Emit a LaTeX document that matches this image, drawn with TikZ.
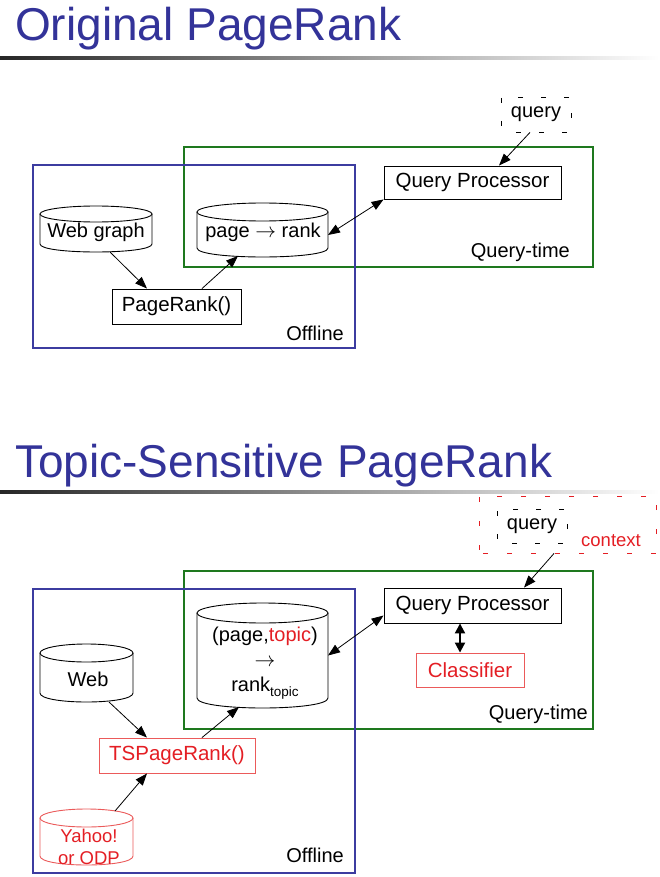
\documentclass[tikz,border=0pt]{standalone}
\usepackage{fontspec}
\setmainfont{Liberation Sans}
\usetikzlibrary{arrows.meta,calc}
\definecolor{ttl}{RGB}{51,51,153}
\definecolor{offb}{RGB}{60,60,160}
\definecolor{qtg}{RGB}{30,120,30}
\definecolor{rtx}{RGB}{228,30,36}
\definecolor{rbx}{RGB}{235,90,90}
\newcommand\cylshape[6]{%
  \path[fill=white,draw=#6,line width=0.9pt]
    (#1,{#2+#5}) -- (#1,{#4-#5}) .. controls (#1,{#4+#5/3}) and (#3,{#4+#5/3}) .. (#3,{#4-#5}) -- (#3,{#2+#5});
  \path[fill=white,draw=#6,line width=0.9pt]
    ({(#1+#3)/2},{#2+#5}) ellipse [x radius={(#3-#1)/2}, y radius=#5];
}
\tikzset{
  title/.style={anchor=base west, inner sep=0pt, text=ttl, font=\fontsize{46}{50}\selectfont},
  lbl/.style={inner sep=0pt, font=\fontsize{20}{26}\selectfont},
  box/.style={draw, line width=0.9pt, fill=white, inner sep=0pt, font=\fontsize{20.5}{24}\selectfont},
  rbox/.style={box, draw=rbx, text=rtx},
  area/.style={inner sep=0pt, outer sep=0pt},
  frameG/.style={draw=qtg, line width=2.8pt, inner sep=0pt},
  frameB/.style={draw=offb, line width=2.8pt, inner sep=0pt},
  qbox/.style={draw, dash pattern=on 5pt off 18pt, dash phase=8pt, line width=0.8pt, inner sep=0pt, font=\fontsize{20}{24}\selectfont},
  rdash/.style={draw=rtx, dash pattern=on 5pt off 19pt, dash phase=-4pt, line width=0.9pt, inner sep=0pt},
  arr/.style={-{Triangle[length=12pt,width=9pt]}, line width=0.8pt},
  darr/.style={{Triangle[length=12pt,width=9pt]}-{Triangle[length=12pt,width=9pt]}, line width=0.8pt},
  tdarr/.style={{Triangle[length=10pt,width=10pt]}-{Triangle[length=10pt,width=10pt]}, line width=2pt},
}
\begin{document}
\begin{tikzpicture}[x=1pt,y=-1pt]
\useasboundingbox (0,0) rectangle (659,877);
% ---------- Part 1 ----------
\node[title] (t1) at (15,41) {Original PageRank};
\shade[left color=black!85,right color=white] (0,56.5) rectangle (659,59.5);

\node[frameG, minimum width=409, minimum height=120] (qt1) at (388.5,207) {};
\node[frameB, minimum width=322, minimum height=183] (off1) at (194,256.5) {};
\node[lbl, anchor=base east] (qtl1) at (570,257) {Query-time};
\node[lbl, anchor=base east] (offl1) at (344,340) {Offline};

\cylshape{40}{206}{152}{252}{8}{black}
\node[area, minimum width=112, minimum height=46] (webg) at (96,229) {};
\node[lbl] (webgT) at (96,232) {Web graph};

\cylshape{197}{203}{328}{257}{9}{black}
\node[area, minimum width=131, minimum height=54] (pr1) at (262.5,230) {};
\node[lbl] (pr1T) at (263,232) {page $\rightarrow$ rank};

\node[box, minimum width=177, minimum height=33] (qp1) at (472.5,182.5) {Query Processor};
\node[box, minimum width=129, minimum height=35] (prk) at (176.5,306.5) {PageRank()};
\node[qbox, minimum width=70, minimum height=35] (qry1) at (536,114.5) {query};

\draw[arr] ([xshift=-6pt]qry1.south) -- ([xshift=26.5pt]qp1.north);
\draw[darr] (qp1.south west) -- ($(pr1.east)+(0,5)$);
\draw[arr] ([xshift=14pt]webg.south) -- ([xshift=-29.5pt]prk.north);
\draw[arr] ([xshift=25.5pt]prk.north) -- ($(pr1.south)+(-24.5,-1)$);

% ---------- Part 2 ----------
\node[title] (t2) at (15,477) {Topic-Sensitive PageRank};
\shade[left color=black!85,right color=white] (0,490.5) rectangle (659,493.5);

\node[rdash, minimum width=177, minimum height=57] (ctx) at (567.5,524.5) {};
\node[qbox, minimum width=70, minimum height=34] (qry2) at (532,526) {query};
\node[lbl, text=rtx, font=\fontsize{18.5}{22}\selectfont] (ctxT) at (611,541) {context};

\node[frameG, minimum width=409, minimum height=158] (qt2) at (388.5,650) {};
\node[frameB, minimum width=322, minimum height=284] (off2) at (194,731) {};
\node[lbl, anchor=base east] (qtl2) at (588,719) {Query-time};
\node[lbl, anchor=base east] (offl2) at (344,862) {Offline};

\node[box, minimum width=177, minimum height=35] (qp2) at (472.5,605.5) {Query Processor};
\node[rbox, minimum width=108, minimum height=34] (cls) at (470,670) {Classifier};

\cylshape{197}{603}{328}{708}{10}{black}
\node[area, minimum width=131, minimum height=105] (ptc) at (262.5,655.5) {};
\node[lbl, align=center, font=\fontsize{20}{25}\selectfont] (ptcT) at (265,663)
  {(page,\textcolor{rtx}{topic})\\$\rightarrow$\\rank\raisebox{-5pt}{\fontsize{13.5}{14}\selectfont topic}};

\cylshape{40}{644}{133}{702}{9}{black}
\node[area, minimum width=93, minimum height=58] (web2) at (86.5,673) {};
\node[lbl] (web2T) at (88,679) {Web};

\node[rbox, minimum width=156, minimum height=35] (tsp) at (177,755.5) {TSPageRank()};

\cylshape{40}{809}{133}{865}{9}{rbx}
\node[area, minimum width=93, minimum height=56] (yahoo) at (86.5,837) {};
\node[lbl, align=center, text=rtx, font=\fontsize{18.5}{22}\selectfont] (yahooT) at (89,847) {Yahoo!\\or ODP};

\draw[arr] ([xshift=-13.5pt]ctx.south) -- ([xshift=51.5pt]qp2.north);
\draw[darr] ($(qp2.west)+(0,10)$) -- (ptc.east);
\draw[tdarr] ([xshift=-12.5pt]qp2.south) -- ([xshift=-10pt]cls.north);
\draw[arr] ([xshift=22.5pt]web2.south) -- ([xshift=-30pt]tsp.north);
\draw[arr] ([xshift=25pt]tsp.north) -- ($(ptc.south)+(-23.5,-1)$);
\draw[arr] ($(yahoo.north)+(28.5,2)$) -- ([xshift=-30pt]tsp.south);
\end{tikzpicture}
\end{document}
